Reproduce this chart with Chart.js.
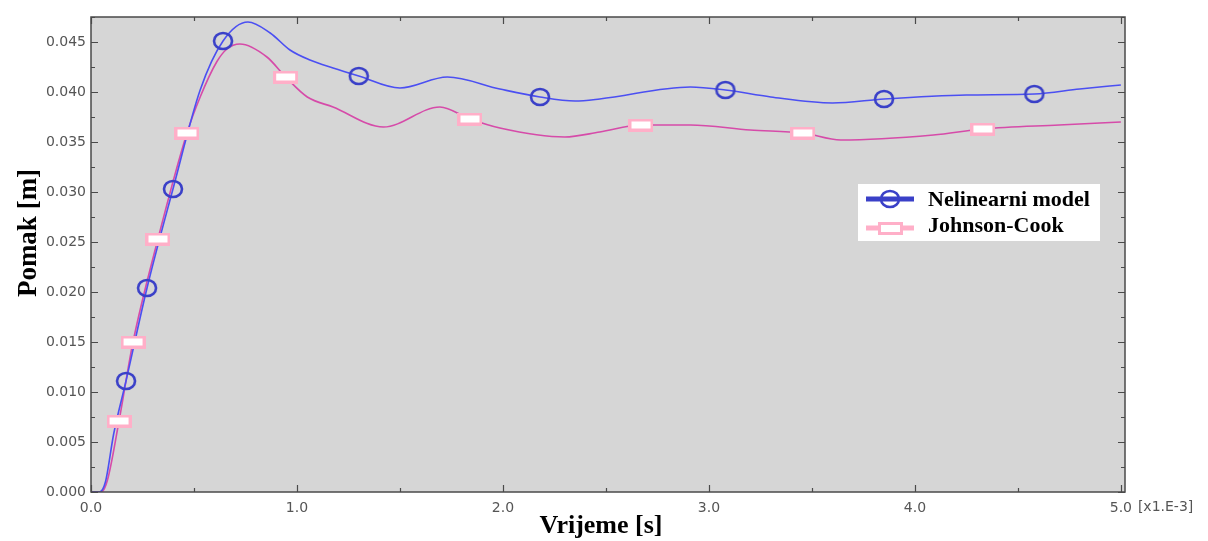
<!DOCTYPE html>
<html>
<head>
<meta charset="utf-8">
<script src="https://cdn.jsdelivr.net/npm/chart.js@4"></script>
<style>
  body { margin: 0; background: #fff; }
  #wrap { width: 1208px; height: 541px; }
</style>
</head>
<body>
<div id="wrap"><canvas id="graf" width="1208" height="541"></canvas></div>
<script>
// vrijeme u ms (x1.E-3 s), pomak u m
const tNelin = [0, 0.04, 0.07, 0.11, 0.17, 0.272, 0.398, 0.53, 0.641, 0.762, 0.87, 0.966, 1.063, 1.175, 1.3, 1.5, 1.73, 1.985, 2.18, 2.35, 2.47, 2.91, 3.08, 3.3, 3.6, 3.85, 4.25, 4.58, 4.8, 5.0];
const vNelin = [0, 0, 0.001, 0.0058, 0.0111, 0.0204, 0.0303, 0.0402, 0.0451, 0.0470, 0.0459, 0.0442, 0.0432, 0.0424, 0.0416, 0.0404, 0.0415, 0.0403, 0.0395, 0.0391, 0.0393, 0.0405, 0.0402, 0.0395, 0.0389, 0.0393, 0.0397, 0.0398, 0.0403, 0.0407];

const tJc = [0, 0.05, 0.08, 0.136, 0.204, 0.325, 0.466, 0.53, 0.61, 0.66, 0.723, 0.854, 0.945, 1.05, 1.175, 1.42, 1.694, 1.84, 1.985, 2.3, 2.47, 2.67, 2.91, 3.2, 3.456, 3.64, 4.09, 4.33, 4.7, 5.0];
const vJc = [0, 0, 0.0012, 0.0071, 0.0150, 0.0253, 0.0359, 0.0395, 0.0430, 0.0443, 0.0448, 0.0435, 0.0415, 0.0395, 0.0385, 0.0365, 0.0385, 0.0373, 0.0364, 0.0355, 0.0360, 0.0367, 0.0367, 0.0362, 0.0359, 0.0352, 0.0357, 0.0363, 0.0367, 0.0370];

// markeri
const tNelinMark = [0.17, 0.272, 0.398, 0.641, 1.3, 2.18, 3.08, 3.85, 4.58];
const vNelinMark = [0.0111, 0.0204, 0.0303, 0.0451, 0.0416, 0.0395, 0.0402, 0.0393, 0.0398];
const tJcMark = [0.136, 0.204, 0.325, 0.466, 0.945, 1.84, 2.67, 3.456, 4.33];
const vJcMark = [0.0071, 0.0150, 0.0253, 0.0359, 0.0415, 0.0373, 0.0367, 0.0359, 0.0363];

const nazivi = ['Nelinearni model', 'Johnson-Cook'];

const plava = '#4b4ff2';
const plavaMarker = '#3a40c8';
const roza = '#d64ba9';
const rozaMarker = '#ffafc8';

function spoji(t, v) {
  var out = [];
  for (var i = 0; i < t.length; i++) out.push({ x: t[i], y: v[i] });
  return out;
}

function elipsa() {
  const c = document.createElement('canvas');
  c.width = 22; c.height = 20;
  const g = c.getContext('2d');
  g.strokeStyle = plavaMarker;
  g.lineWidth = 2.6;
  g.beginPath();
  g.ellipse(11, 10, 9, 8, 0, 0, Math.PI * 2);
  g.stroke();
  return c;
}

function pravokutnik() {
  const c = document.createElement('canvas');
  c.width = 25; c.height = 13;
  const g = c.getContext('2d');
  g.fillStyle = rozaMarker;
  g.fillRect(0, 0, 25, 13);
  g.fillStyle = '#ffffff';
  g.fillRect(3, 3, 19, 7);
  return c;
}

const markerPlavi = elipsa();
const markerRozi = pravokutnik();

// pozadina, okvir, kvacice prema unutra, naslovi osi, legenda
const okvirPlugin = {
  id: 'okvir',
  beforeDraw(chart) {
    const a = chart.chartArea;
    const ctx = chart.ctx;
    ctx.save();
    ctx.fillStyle = '#d6d6d6';
    ctx.fillRect(a.left, a.top, a.right - a.left, a.bottom - a.top);
    ctx.restore();
  },
  afterDatasetsDraw(chart) {
    const a = chart.chartArea;
    const ctx = chart.ctx;
    const sx = chart.scales.x, sy = chart.scales.y;
    ctx.save();
    ctx.strokeStyle = '#4a4a4a';
    ctx.lineWidth = 1.5;
    ctx.strokeRect(a.left, a.top, a.right - a.left, a.bottom - a.top);
    ctx.lineWidth = 1.2;
    ctx.beginPath();
    sx.ticks.forEach(function (tk) {
      const px = Math.round(sx.getPixelForValue(tk.value)) + 0.5;
      const big = Math.abs(tk.value - Math.round(tk.value)) < 1e-6;
      const len = big ? 7 : 4;
      ctx.moveTo(px, a.bottom); ctx.lineTo(px, a.bottom - len);
      ctx.moveTo(px, a.top); ctx.lineTo(px, a.top + len);
    });
    sy.ticks.forEach(function (tk) {
      const py = Math.round(sy.getPixelForValue(tk.value)) + 0.5;
      const big = Math.round(tk.value / 0.0025) % 2 === 0;
      const len = big ? 7 : 4;
      ctx.moveTo(a.left, py); ctx.lineTo(a.left + len, py);
      ctx.moveTo(a.right, py); ctx.lineTo(a.right - len, py);
    });
    ctx.stroke();

    // jedinica uz zadnju oznaku
    ctx.fillStyle = '#555555';
    ctx.font = '14px "DejaVu Sans"';
    ctx.textBaseline = 'middle';
    ctx.textAlign = 'left';
    ctx.fillText('[x1.E-3]', sx.getPixelForValue(5) + 17, a.bottom + 15);

    // naslovi osi
    ctx.fillStyle = '#000000';
    ctx.textAlign = 'center';
    ctx.textBaseline = 'alphabetic';
    ctx.font = 'bold 26px "Liberation Serif"';
    ctx.fillText('Vrijeme [s]', 601, 533);
    ctx.save();
    ctx.translate(36, 233);
    ctx.rotate(-Math.PI / 2);
    ctx.font = 'bold 27px "Liberation Serif"';
    ctx.fillText('Pomak [m]', 0, 0);
    ctx.restore();

    // legenda
    const lx = 858, ly = 184;
    ctx.fillStyle = '#ffffff';
    ctx.fillRect(lx, ly, 242, 57);
    ctx.lineWidth = 5;
    ctx.strokeStyle = plavaMarker;
    ctx.beginPath(); ctx.moveTo(lx + 8, ly + 15); ctx.lineTo(lx + 56, ly + 15); ctx.stroke();
    ctx.drawImage(markerPlavi, lx + 21, ly + 5);
    ctx.strokeStyle = rozaMarker;
    ctx.beginPath(); ctx.moveTo(lx + 8, ly + 44); ctx.lineTo(lx + 56, ly + 44); ctx.stroke();
    ctx.drawImage(markerRozi, lx + 20, ly + 38);
    ctx.fillStyle = '#000000';
    ctx.textAlign = 'left';
    ctx.textBaseline = 'middle';
    ctx.font = 'bold 22px "Liberation Serif"';
    ctx.fillText(nazivi[0], lx + 70, ly + 16);
    ctx.fillText(nazivi[1], lx + 70, ly + 42);
    ctx.restore();
  }
};

new Chart(document.getElementById('graf'), {
  type: 'line',
  data: {
    datasets: [
      { label: nazivi[0], data: spoji(tNelin, vNelin), borderColor: plava, borderWidth: 1.6, pointRadius: 0, cubicInterpolationMode: 'monotone', order: 2 },
      { label: nazivi[1], data: spoji(tJc, vJc), borderColor: roza, borderWidth: 1.6, pointRadius: 0, cubicInterpolationMode: 'monotone', order: 3 },
      { label: nazivi[0] + ' m', data: spoji(tNelinMark, vNelinMark), showLine: false, pointStyle: markerPlavi, order: 0 },
      { label: nazivi[1] + ' m', data: spoji(tJcMark, vJcMark), showLine: false, pointStyle: markerRozi, order: 1 }
    ]
  },
  options: {
    responsive: false,
    animation: false,
    layout: { padding: { top: 17, right: 83, left: 0, bottom: 0 } },
    plugins: { legend: { display: false }, tooltip: { enabled: false } },
    scales: {
      x: {
        type: 'linear',
        min: 0,
        max: 5.02,
        grid: { display: false, drawTicks: false },
        border: { display: false },
        ticks: {
          stepSize: 0.5,
          includeBounds: false,
          autoSkip: false,
          maxRotation: 0,
          padding: 8,
          color: '#555555',
          font: { family: 'DejaVu Sans', size: 14 },
          callback: function (v) {
            return Math.abs(v - Math.round(v)) < 1e-6 ? v.toFixed(1) : '';
          }
        },
        afterFit: function (s) { s.height = 49; }
      },
      y: {
        min: 0,
        max: 0.0475,
        grid: { display: false, drawTicks: false },
        border: { display: false },
        ticks: {
          stepSize: 0.0025,
          autoSkip: false,
          padding: 5,
          color: '#555555',
          font: { family: 'DejaVu Sans', size: 14 },
          callback: function (v) {
            return Math.round(v / 0.0025) % 2 === 0 ? v.toFixed(3) : '';
          }
        },
        afterFit: function (s) { s.width = 91; }
      }
    }
  },
  plugins: [okvirPlugin]
});
</script>
</body>
</html>
